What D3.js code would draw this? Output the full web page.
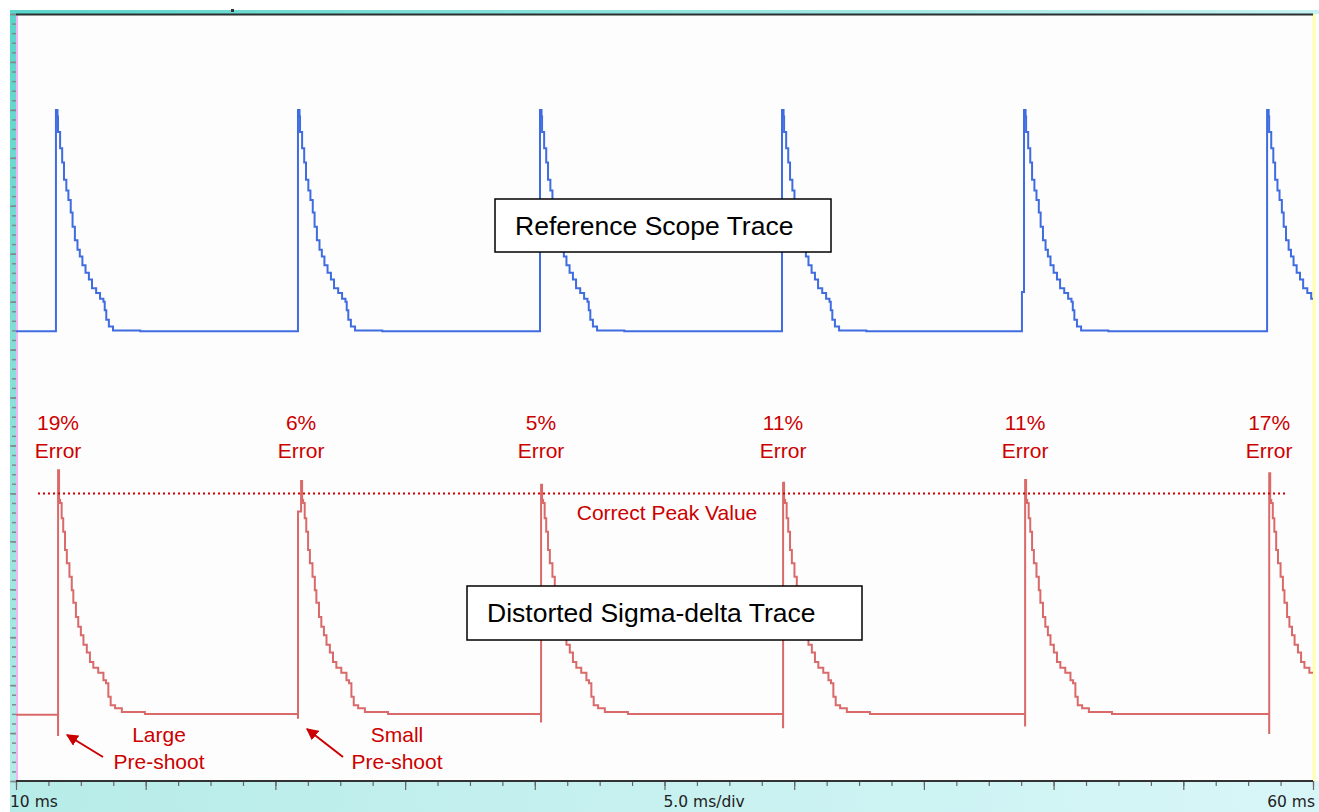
<!DOCTYPE html>
<html>
<head>
<meta charset="utf-8">
<script src="https://cdn.jsdelivr.net/npm/d3@7"></script>
<style>
  html, body { margin: 0; padding: 0; background: #fff; }
  svg { display: block; }
  .note { font-family: "Liberation Sans", Arial, sans-serif; fill: #cc0000; }
  .box-label { font-family: "Liberation Sans", Arial, sans-serif; font-size: 26.5px; fill: #000; }
  .axis-label { font-family: "DejaVu Sans", sans-serif; font-size: 15.5px; fill: #222; }
</style>
</head>
<body>
<svg id="chart"></svg>
<script>
const width = 1319,
  height = 812,
  plot = { left: 16, right: 1313, top: 14, bottom: 781 };

// time axis (ms) and screen divisions
const timeDomain = [10, 60];
const majorTicks = [10, 15, 20, 25, 30, 35, 40, 45, 50, 55, 60];
const voltDomain = [0, 8];

const blueBase = 4.69;
const blueStarts = [11.54, 20.87, 30.20, 39.53, 48.86, 58.23];
const bluePedestals = [null, null, null, null, 5.10, null];
const blueShape = [
  [0, 7.00], [0.06, 6.93], [0.08, 6.77], [0.16, 6.60], [0.24, 6.45], [0.31, 6.27],
  [0.40, 6.16], [0.48, 6.06], [0.57, 5.93], [0.64, 5.78], [0.73, 5.64], [0.83, 5.54],
  [0.92, 5.47], [1.02, 5.38], [1.14, 5.30], [1.27, 5.23], [1.39, 5.14], [1.55, 5.09],
  [1.70, 5.03], [1.83, 5.00], [1.88, 4.91], [1.94, 4.81], [2.04, 4.74], [2.20, 4.70],
  [3.25, 4.69]
];

// distorted sigma-delta trace (red)
const redBase = 0.69;
const redStarts = [11.62, 20.99, 30.24, 39.57, 48.90, 58.31];
const redPeaks = [3.24, 3.13, 3.09, 3.11, 3.14, 3.21];
const redPreshoots = [0.48, 0.66, 0.62, 0.56, 0.58, 0.50];
const redLeadSteps = [null, 2.81, null, null, null, null];
const redShape = [
  [0.04, 2.93], [0.08, 2.90], [0.14, 2.74], [0.20, 2.60], [0.27, 2.41], [0.34, 2.27],
  [0.44, 2.13], [0.53, 1.99], [0.59, 1.86], [0.69, 1.71], [0.78, 1.61], [0.88, 1.52],
  [0.98, 1.42], [1.11, 1.34], [1.23, 1.24], [1.36, 1.18], [1.55, 1.13], [1.75, 1.05],
  [1.85, 1.02], [1.94, 0.88], [2.03, 0.79], [2.20, 0.76], [2.46, 0.72], [3.35, 0.70]
];

const correctPeak = 3.0;
const errorLabels = ['19%', '6%', '5%', '11%', '11%', '17%'];

const svg = d3.select('#chart')
  .attr('width', width)
  .attr('height', height);

const x = d3.scaleLinear().domain(timeDomain).range([plot.left, plot.right]);
const y = d3.scaleLinear().domain(voltDomain).range([plot.bottom, plot.top]);

const defs = svg.append('defs');
const gLeft = defs.append('linearGradient').attr('id', 'leftStrip')
  .attr('x1', 0).attr('y1', 0).attr('x2', 0).attr('y2', 1);
gLeft.append('stop').attr('offset', '0%').attr('stop-color', '#5ad5cb');
gLeft.append('stop').attr('offset', '100%').attr('stop-color', '#b4ece9');
const gBottom = defs.append('linearGradient').attr('id', 'bottomStrip')
  .attr('x1', 0).attr('y1', 0).attr('x2', 1).attr('y2', 0);
gBottom.append('stop').attr('offset', '0%').attr('stop-color', '#b6ece8');
gBottom.append('stop').attr('offset', '100%').attr('stop-color', '#d8f6f8');
const gTop = defs.append('linearGradient').attr('id', 'topStrip')
  .attr('x1', 0).attr('y1', 0).attr('x2', 1).attr('y2', 0);
gTop.append('stop').attr('offset', '0%').attr('stop-color', '#5ad5cb');
gTop.append('stop').attr('offset', '100%').attr('stop-color', '#c6f2f2');
defs.append('clipPath').attr('id', 'plotClip')
  .append('rect')
  .attr('x', plot.left).attr('y', plot.top)
  .attr('width', plot.right - plot.left).attr('height', plot.bottom - plot.top);
defs.append('marker').attr('id', 'arrow')
  .attr('viewBox', '0 0 10 10').attr('refX', 9).attr('refY', 5)
  .attr('markerWidth', 6).attr('markerHeight', 6).attr('orient', 'auto')
  .append('path').attr('d', 'M0,0 L10,5 L0,10 z').attr('fill', '#cc0000');

// frame pieces
svg.append('rect').attr('x', 10).attr('y', 10).attr('width', width - 10).attr('height', 4)
  .attr('fill', 'url(#topStrip)');
svg.append('rect').attr('x', 10).attr('y', 10).attr('width', 6).attr('height', plot.bottom - 10)
  .attr('fill', 'url(#leftStrip)');
svg.append('rect').attr('x', 10).attr('y', plot.bottom).attr('width', width - 10).attr('height', height - plot.bottom)
  .attr('fill', 'url(#bottomStrip)');
svg.append('rect').attr('x', plot.left).attr('y', plot.top)
  .attr('width', plot.right - plot.left).attr('height', plot.bottom - plot.top)
  .attr('fill', '#fdfdfd');
svg.append('line').attr('x1', plot.left + 1).attr('x2', plot.left + 1)
  .attr('y1', plot.top).attr('y2', plot.bottom)
  .attr('stroke', '#f4b4f4').attr('stroke-width', 2);
svg.append('line').attr('x1', plot.right + 1).attr('x2', plot.right + 1)
  .attr('y1', plot.top).attr('y2', plot.bottom)
  .attr('stroke', '#ffffb0').attr('stroke-width', 3);
svg.append('line').attr('x1', plot.left).attr('x2', plot.right)
  .attr('y1', plot.top + 0.5).attr('y2', plot.top + 0.5)
  .attr('stroke', '#2a2f2f').attr('stroke-width', 2);
svg.append('rect').attr('x', 231).attr('y', 9).attr('width', 3).attr('height', 3).attr('fill', '#333');

// left tick strip
const yMinor = d3.axisLeft(y).tickValues(d3.range(0, 8.01, 0.1)).tickSize(4).tickFormat('');
const yMajor = d3.axisLeft(y).tickValues(d3.range(0, 8.01, 0.5)).tickSize(6).tickFormat('');
[yMinor, yMajor].forEach(ax => {
  const g = svg.append('g').attr('transform', `translate(${plot.left},0)`).call(ax);
  g.select('.domain').remove();
  g.selectAll('line').attr('stroke', '#7d8c8c').attr('stroke-width', 1.5);
});

// bottom axis
const xMinor = d3.axisBottom(x).tickValues(d3.range(10, 60.01, 1.25)).tickSize(5).tickFormat('');
const xMajor = d3.axisBottom(x).tickValues(majorTicks).tickSize(9).tickFormat('');
[xMinor, xMajor].forEach(ax => {
  const g = svg.append('g').attr('transform', `translate(0,${plot.bottom})`).call(ax);
  g.select('.domain').remove();
  g.selectAll('line').attr('stroke', '#666').attr('stroke-width', 1.2);
});
svg.append('line').attr('x1', plot.left).attr('x2', plot.right)
  .attr('y1', plot.bottom).attr('y2', plot.bottom)
  .attr('stroke', '#333').attr('stroke-width', 2);

svg.append('text').attr('class', 'axis-label').attr('x', 10).attr('y', 807).text('10 ms');
svg.append('text').attr('class', 'axis-label').attr('x', x(35) - 1).attr('y', 807).text('5.0 ms/div');
svg.append('text').attr('class', 'axis-label').attr('x', plot.right + 2).attr('y', 807)
  .attr('text-anchor', 'end').text('60 ms');

// build traces from the read-off pulse shapes
const bluePts = [[timeDomain[0], blueBase]];
blueStarts.forEach((t0, i) => {
  if (bluePedestals[i] != null) bluePts.push([t0 - 0.08, bluePedestals[i]]);
  blueShape.forEach(([dt, v]) => bluePts.push([t0 + dt, v]));
});

const redPts = [[timeDomain[0], redBase]];
redStarts.forEach((t0, i) => {
  if (redLeadSteps[i] != null) {
    redPts.push([t0 - 0.12, redPreshoots[i]]);
    redPts.push([t0 - 0.118, redLeadSteps[i]]);
    redPts.push([t0, redPeaks[i]]);
  } else {
    redPts.push([t0, redPreshoots[i]]);
    redPts.push([t0 + 0.002, redPeaks[i]]);
  }
  redShape.forEach(([dt, v]) => redPts.push([t0 + dt, v]));
});

const line = d3.line()
  .x(d => x(d[0]))
  .y(d => y(d[1]))
  .curve(d3.curveStepAfter);

const traces = svg.append('g').attr('clip-path', 'url(#plotClip)');
traces.append('path').datum(bluePts)
  .attr('d', line).attr('fill', 'none')
  .attr('stroke', '#3f6ce0').attr('stroke-width', 2);
traces.append('path').datum(redPts)
  .attr('d', line).attr('fill', 'none')
  .attr('stroke', '#da6a6a').attr('stroke-width', 2);

// correct peak reference
svg.append('line')
  .attr('x1', x(redStarts[0]) - 20).attr('x2', x(redStarts[5]) + 16)
  .attr('y1', y(correctPeak)).attr('y2', y(correctPeak))
  .attr('stroke', '#cc0000').attr('stroke-width', 2).attr('stroke-dasharray', '2,3');
svg.append('text').attr('class', 'note').attr('font-size', 21)
  .attr('x', 667).attr('y', y(correctPeak) + 27).attr('text-anchor', 'middle')
  .text('Correct Peak Value');

// error labels
const errG = svg.append('g').selectAll('g').data(errorLabels).join('g')
  .attr('transform', (d, i) => `translate(${x(redStarts[i])},0)`);
errG.append('text').attr('class', 'note').attr('font-size', 21).attr('text-anchor', 'middle')
  .attr('y', 430).text(d => d);
errG.append('text').attr('class', 'note').attr('font-size', 21).attr('text-anchor', 'middle')
  .attr('y', 458).text('Error');

// pre-shoot notes
const notes = [
  { lines: ['Large', 'Pre-shoot'], cx: 159, from: [103, 757], to: [67, 735] },
  { lines: ['Small', 'Pre-shoot'], cx: 397, from: [343, 757], to: [307, 729] }
];
notes.forEach(n => {
  n.lines.forEach((t, k) => {
    svg.append('text').attr('class', 'note').attr('font-size', 21).attr('text-anchor', 'middle')
      .attr('x', n.cx).attr('y', 742 + k * 27).text(t);
  });
  svg.append('line')
    .attr('x1', n.from[0]).attr('y1', n.from[1]).attr('x2', n.to[0]).attr('y2', n.to[1])
    .attr('stroke', '#cc0000').attr('stroke-width', 2).attr('marker-end', 'url(#arrow)');
});

// trace name boxes
const boxes = [
  { text: 'Reference Scope Trace', x: 495, y: 199, w: 336, h: 53 },
  { text: 'Distorted Sigma-delta Trace', x: 467, y: 586, w: 395, h: 54 }
];
boxes.forEach(b => {
  svg.append('rect').attr('x', b.x).attr('y', b.y).attr('width', b.w).attr('height', b.h)
    .attr('fill', '#fff').attr('stroke', '#000').attr('stroke-width', 1.5);
  svg.append('text').attr('class', 'box-label')
    .attr('x', b.x + 20).attr('y', b.y + b.h / 2 + 9).text(b.text);
});
</script>
</body>
</html>
